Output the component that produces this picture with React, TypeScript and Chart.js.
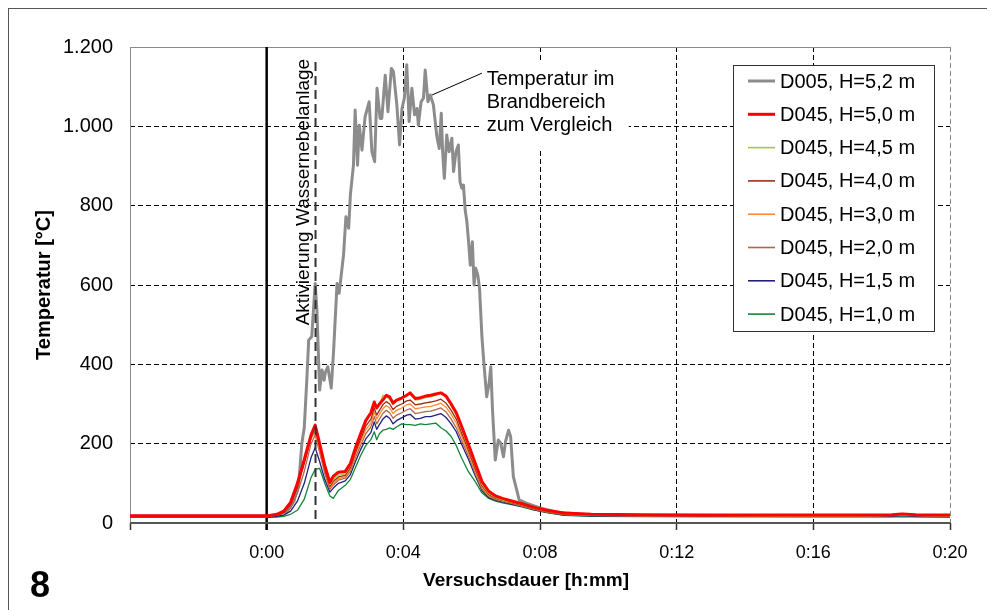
import React, { useEffect, useRef } from "react";
import { Chart, registerables } from "chart.js";

Chart.register(...registerables);

// ---------- data (minutes since ignition, °C) ----------
const grayTime = [
  -4, 0, 0.3, 0.6, 0.8, 0.94, 1.03, 1.1, 1.18, 1.23, 1.32, 1.42, 1.47, 1.55, 1.62, 1.68, 1.72, 1.79, 1.89, 1.96,
  2.06, 2.12, 2.2, 2.25, 2.32, 2.4, 2.45, 2.54, 2.59, 2.66, 2.71, 2.79, 2.88, 3.0, 3.08, 3.16, 3.23, 3.32, 3.37,
  3.47, 3.55, 3.65, 3.71, 3.81, 3.89, 3.96, 4.03, 4.1, 4.17, 4.25, 4.33, 4.4, 4.44, 4.52, 4.59, 4.64, 4.72, 4.79,
  4.88, 4.98, 5.05, 5.11, 5.15, 5.2, 5.27, 5.34, 5.42, 5.47, 5.54, 5.61, 5.66, 5.71, 5.76, 5.81, 5.86, 5.91, 5.96,
  6.02, 6.07, 6.12, 6.18, 6.23, 6.3, 6.35, 6.44, 6.51, 6.56, 6.61, 6.69, 6.78, 6.85, 6.93, 6.99, 7.08, 7.14, 7.22,
  7.32, 7.39, 7.6, 8.0, 8.5, 9.5, 12, 16, 20,
];
const grayTemp = [
  17, 17, 20, 30, 55, 101, 201, 240, 369, 461, 470, 604, 537, 335, 386, 360, 380, 394, 340, 436,
  604, 579, 638, 676, 772, 743, 827, 902, 1041, 902, 1003, 940, 1024, 1062, 936, 911, 1096, 1020, 1020,
  1129, 1037, 1146, 1138, 1054, 953, 1045, 1071, 1155, 1012, 1096, 1029, 1045, 1003, 1062, 1071, 1142, 1062, 1079,
  1054, 975, 944, 1033, 936, 869, 978, 936, 970, 886, 936, 953, 860, 844, 852, 789, 760, 709, 650,
  709, 600, 642, 625, 592, 470, 411, 318, 352, 394, 285, 159, 209, 201, 167, 205, 234, 218, 117,
  83, 58, 50, 38, 27, 20, 18, 17, 17,
];

const colorTime = [
  -4, 0, 0.3, 0.5, 0.7, 0.9, 1.1, 1.3, 1.42, 1.55, 1.7, 1.85, 1.95, 2.1, 2.3, 2.45, 2.6, 2.75, 2.9, 3.05,
  3.15, 3.22, 3.3, 3.4, 3.5, 3.6, 3.7, 3.8, 3.95, 4.1, 4.2, 4.35, 4.5, 4.65, 4.8, 4.95, 5.1, 5.25, 5.4, 5.55,
  5.7, 5.9, 6.1, 6.3, 6.5, 6.7, 6.9, 7.2, 7.5, 7.8, 8.2, 8.7, 9.5, 11, 13, 15, 17, 18.3, 18.6, 19, 20,
];
const tempH50 = [
  18, 18, 22, 30, 52, 100, 160, 222, 247, 200, 145, 102, 118, 128, 130, 150, 190, 225, 258, 278,
  305, 290, 300, 310, 322, 318, 302, 310, 315, 322, 328, 314, 316, 320, 322, 325, 328, 320, 300, 278,
  245, 200, 152, 105, 80, 68, 62, 55, 48, 40, 32, 25, 22, 21, 20, 20, 20, 21, 23, 21, 20,
];
const tempH45 = [
  17, 17, 21, 29, 50, 98, 158, 222, 246, 196, 140, 96, 110, 120, 124, 145, 185, 222, 255, 275,
  303, 288, 298, 322, 318, 312, 300, 308, 312, 325, 325, 310, 312, 316, 318, 322, 328, 316, 295, 272,
  238, 192, 145, 98, 75, 64, 58, 52, 45, 38, 30, 23, 20, 19, 19, 18, 18, 19, 21, 19, 18,
];
const tempH40 = [
  17, 17, 20, 27, 46, 90, 150, 215, 244, 192, 135, 92, 105, 116, 120, 140, 178, 212, 244, 262,
  290, 272, 284, 298, 306, 300, 286, 294, 300, 308, 310, 298, 300, 303, 305, 308, 312, 302, 284, 262,
  228, 185, 138, 94, 72, 62, 57, 51, 44, 37, 29, 22, 20, 19, 18, 18, 18, 19, 21, 19, 18,
];
const tempH30 = [
  16, 16, 21, 30, 52, 95, 155, 212, 232, 185, 132, 90, 100, 112, 117, 135, 172, 205, 235, 252,
  280, 262, 274, 288, 296, 290, 276, 284, 290, 298, 300, 288, 290, 293, 294, 298, 302, 292, 274, 252,
  220, 178, 132, 90, 70, 61, 56, 50, 43, 36, 28, 22, 19, 18, 18, 18, 18, 19, 20, 19, 18,
];
const tempH20 = [
  16, 16, 19, 24, 38, 75, 130, 200, 222, 178, 125, 85, 96, 108, 113, 130, 165, 196, 225, 242,
  268, 250, 262, 276, 284, 278, 264, 272, 278, 285, 288, 276, 278, 281, 282, 286, 290, 280, 262, 240,
  210, 170, 126, 86, 67, 59, 55, 49, 42, 35, 28, 21, 19, 18, 18, 17, 17, 18, 20, 18, 17,
];
const tempH15 = [
  15, 15, 17, 20, 30, 55, 100, 165, 190, 155, 110, 78, 88, 100, 106, 122, 155, 185, 212, 228,
  255, 236, 248, 262, 270, 264, 250, 258, 265, 272, 274, 262, 264, 268, 268, 272, 276, 266, 250, 230,
  200, 162, 120, 82, 64, 57, 53, 47, 41, 34, 27, 20, 18, 17, 17, 17, 17, 17, 19, 17, 16,
];
const tempH10 = [
  14, 14, 15, 17, 22, 32, 60, 115, 135, 138, 100, 68, 62, 82, 95, 110, 140, 170, 195, 210,
  230, 210, 225, 234, 236, 240, 236, 242, 250, 248, 248, 246, 250, 248, 250, 252, 240, 232, 218, 195,
  165, 130, 105, 76, 62, 55, 51, 46, 40, 33, 26, 19, 17, 16, 16, 16, 16, 16, 18, 16, 15,
];

const seriesLabels = [
  "D005, H=5,2 m",
  "D045, H=5,0 m",
  "D045, H=4,5 m",
  "D045, H=4,0 m",
  "D045, H=3,0 m",
  "D045, H=2,0 m",
  "D045, H=1,5 m",
  "D045, H=1,0 m",
];
const seriesColors = ["#8c8c8c", "#ff0000", "#a9c83c", "#9a2e12", "#ff8a33", "#b4664a", "#202080", "#14863a"];
const seriesWidths = [3, 3, 1.3, 1.3, 1.3, 1.3, 1.3, 1.3];

const xMin = -4;
const xMax = 20;
const xStep = 4;
const yMin = 0;
const yMax = 1200;
const yStep = 200;

const activationMinute = 1.43;
const activationTop = 1162;
const activationLabel = "Aktivierung Wassernebelanlage";
const noteLines = ["Temperatur im", "Brandbereich", "zum Vergleich"];
const noteFrom = { x: 4.84, y: 1079 };
const noteTo = { x: 6.3, y: 1134 };
const noteAnchor = { x: 6.44, y: 1104 };
const xTitle = "Versuchsdauer [h:mm]";
const yTitle = "Temperatur [°C]";
const figureNumber = "8";

const FONT = '"Liberation Sans", Arial, sans-serif';

function fmtThousands(v: number): string {
  return String(v).replace(/\B(?=(\d{3})+(?!\d))/g, ".");
}

const overlayPlugin = {
  id: "overlay",
  beforeDatasetsDraw(chart: any) {
    const { ctx, chartArea: a, scales } = chart;
    const x = scales.x;
    const y = scales.y;
    ctx.save();
    // plot frame (top / left)
    ctx.strokeStyle = "#8a8a8a";
    ctx.lineWidth = 1;
    ctx.beginPath();
    ctx.moveTo(a.left + 0.5, a.bottom);
    ctx.lineTo(a.left + 0.5, a.top + 0.5);
    ctx.lineTo(a.right, a.top + 0.5);
    ctx.stroke();
    // white background behind the note text
    const nx = x.getPixelForValue(noteAnchor.x);
    const ny = y.getPixelForValue(noteAnchor.y);
    ctx.fillStyle = "#fff";
    ctx.fillRect(nx - 6, ny - 22, 148, 86);
    // solid line at t = 0
    const x0 = x.getPixelForValue(0);
    ctx.strokeStyle = "#000";
    ctx.lineWidth = 2.5;
    ctx.beginPath();
    ctx.moveTo(x0, a.top);
    ctx.lineTo(x0, a.bottom + 7);
    ctx.stroke();
    ctx.restore();
  },
  afterDatasetsDraw(chart: any) {
    const { ctx, chartArea: a, scales } = chart;
    const x = scales.x;
    const y = scales.y;
    ctx.save();

    // bottom axis line
    ctx.strokeStyle = "#555";
    ctx.lineWidth = 2;
    ctx.beginPath();
    ctx.moveTo(a.left, y.getPixelForValue(0));
    ctx.lineTo(a.right, y.getPixelForValue(0));
    ctx.stroke();

    // activation line
    const xa = x.getPixelForValue(activationMinute);
    ctx.strokeStyle = "#333";
    ctx.lineWidth = 2;
    ctx.setLineDash([9, 5]);
    ctx.beginPath();
    ctx.moveTo(xa, y.getPixelForValue(activationTop));
    ctx.lineTo(xa, y.getPixelForValue(0));
    ctx.stroke();
    ctx.setLineDash([]);

    // activation label
    ctx.save();
    ctx.translate(xa - 6.5, y.getPixelForValue(activationTop) + 130);
    ctx.rotate(-Math.PI / 2);
    ctx.fillStyle = "#000";
    ctx.font = `19px ${FONT}`;
    ctx.textAlign = "center";
    ctx.textBaseline = "alphabetic";
    ctx.fillText(activationLabel, 0, 0);
    ctx.restore();

    // note with leader line
    ctx.strokeStyle = "#000";
    ctx.lineWidth = 1;
    ctx.beginPath();
    ctx.moveTo(x.getPixelForValue(noteFrom.x), y.getPixelForValue(noteFrom.y));
    ctx.lineTo(x.getPixelForValue(noteTo.x), y.getPixelForValue(noteTo.y));
    ctx.stroke();
    ctx.fillStyle = "#000";
    ctx.font = `20px ${FONT}`;
    ctx.textAlign = "left";
    ctx.textBaseline = "alphabetic";
    const nx = x.getPixelForValue(noteAnchor.x);
    const ny = y.getPixelForValue(noteAnchor.y);
    noteLines.forEach((t, i) => ctx.fillText(t, nx, ny + i * 23));

    // legend
    const boxRight = a.right - 16;
    const boxLeft = boxRight - 201;
    const boxTop = a.top + 18;
    const boxH = 266;
    ctx.fillStyle = "#fff";
    ctx.fillRect(boxLeft, boxTop, boxRight - boxLeft, boxH);
    ctx.strokeStyle = "#333";
    ctx.lineWidth = 1;
    ctx.strokeRect(boxLeft + 0.5, boxTop + 0.5, boxRight - boxLeft, boxH);
    ctx.font = `20px ${FONT}`;
    ctx.textBaseline = "middle";
    seriesLabels.forEach((lab, i) => {
      const cy = boxTop + 16 + i * 33.3;
      ctx.strokeStyle = seriesColors[i];
      ctx.lineWidth = i < 2 ? 3 : 1.6;
      ctx.beginPath();
      ctx.moveTo(boxLeft + 15, cy);
      ctx.lineTo(boxLeft + 42, cy);
      ctx.stroke();
      ctx.fillStyle = "#000";
      ctx.fillText(lab, boxLeft + 47, cy + 1);
    });

    // axis titles
    ctx.fillStyle = "#000";
    ctx.font = `bold 19px ${FONT}`;
    ctx.textAlign = "center";
    ctx.textBaseline = "middle";
    ctx.fillText(xTitle, a.left + a.width * 0.483, a.bottom + 58);
    ctx.save();
    ctx.translate(35, (a.top + a.bottom) / 2);
    ctx.rotate(-Math.PI / 2);
    ctx.font = `bold 20px ${FONT}`;
    ctx.fillText(yTitle, 0, 0);
    ctx.restore();

    // figure number
    ctx.font = `bold 36px ${FONT}`;
    ctx.textAlign = "left";
    ctx.textBaseline = "alphabetic";
    ctx.fillText(figureNumber, 21, 588);

    ctx.restore();
  },
};

export default function App() {
  const canvasRef = useRef<HTMLCanvasElement | null>(null);

  useEffect(() => {
    const canvas = canvasRef.current;
    if (!canvas) return;
    const coloredSets = [tempH50, tempH45, tempH40, tempH30, tempH20, tempH15, tempH10];
    const datasets: any[] = [
      {
        label: seriesLabels[0],
        data: grayTime.map((t, i) => ({ x: t, y: grayTemp[i] })),
        borderColor: seriesColors[0],
        borderWidth: seriesWidths[0],
        order: 7,
      },
      ...coloredSets.map((arr, k) => ({
        label: seriesLabels[k + 1],
        data: colorTime.map((t, i) => ({ x: t, y: arr[i] })),
        borderColor: seriesColors[k + 1],
        borderWidth: seriesWidths[k + 1],
        order: k,
      })),
    ].map((d) => ({ ...d, pointRadius: 0, tension: 0, fill: false, borderJoinStyle: "round" }));

    const chart = new Chart(canvas, {
      type: "line",
      data: { datasets },
      options: {
        responsive: false,
        animation: false,
        devicePixelRatio: 1,
        layout: { padding: { top: 38, right: 37, left: 0, bottom: 0 } },
        plugins: { legend: { display: false }, tooltip: { enabled: false } },
        scales: {
          x: {
            type: "linear",
            min: xMin,
            max: xMax,
            afterFit: (s: any) => {
              s.height = 96;
            },
            ticks: {
              stepSize: xStep,
              autoSkip: false,
              maxRotation: 0,
              padding: 12,
              color: "#000",
              font: { family: FONT, size: 18 },
              callback: (v: any) => (Number(v) < 0 ? "" : `0:${String(v).padStart(2, "0")}`),
            },
            grid: {
              color: (c: any) => (c.tick && (c.tick.value === xMin || c.tick.value === xMax) ? "#888" : "#000"),
              lineWidth: 1,
              tickLength: 7,
              tickColor: "#333",
              tickWidth: 1.5,
              tickBorderDash: [],
            },
            border: { display: false, dash: [5, 3] },
          },
          y: {
            type: "linear",
            min: yMin,
            max: yMax,
            afterFit: (s: any) => {
              s.width = 121;
            },
            ticks: {
              stepSize: yStep,
              padding: 17,
              color: "#000",
              font: { family: FONT, size: 20 },
              callback: (v: any) => fmtThousands(Number(v)),
            },
            grid: {
              drawTicks: false,
              color: (c: any) => (c.tick && (c.tick.value === yMin || c.tick.value === yMax) ? "rgba(0,0,0,0)" : "#000"),
              lineWidth: 1,
            },
            border: { display: false, dash: [5, 3] },
          },
        },
      },
      plugins: [overlayPlugin],
    });
    return () => chart.destroy();
  }, []);

  return (
    <div
      style={{
        width: 980,
        height: 620,
        border: "1px solid #555",
        boxSizing: "border-box",
        position: "relative",
        overflow: "hidden",
        background: "#fff",
      }}
    >
      <canvas ref={canvasRef} width={978} height={610} style={{ width: 978, height: 610, display: "block" }} />
    </div>
  );
}
